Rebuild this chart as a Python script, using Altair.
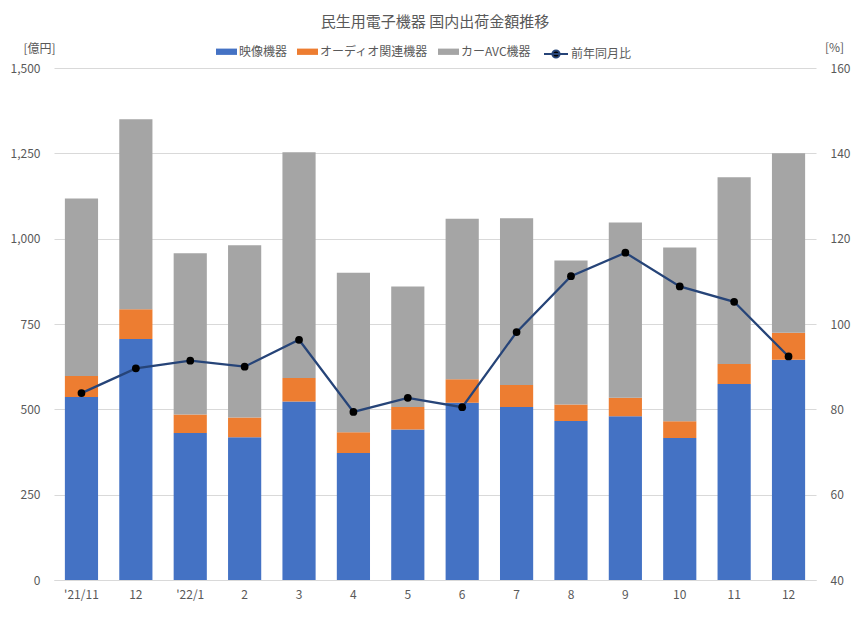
import json
import altair as alt
import pandas as pd

months = ["'21/11", "12", "'22/1", "2", "3", "4", "5", "6", "7", "8", "9", "10", "11", "12"]
video = [536, 706, 431, 418, 523, 372, 441, 519, 507, 466, 480, 416, 574, 645]
audio = [62, 87, 54, 58, 69, 61, 66, 69, 64, 48, 54, 49, 59, 79]
car = [520, 557, 472, 505, 661, 467, 353, 470, 489, 422, 513, 509, 547, 526]
yoy = [83.8, 89.6, 91.4, 90.0, 96.3, 79.4, 82.7, 80.5, 98.1, 111.2, 116.7, 108.8, 105.2, 92.4]
series = ["映像機器", "オーディオ関連機器", "カーAVC機器"]
colors = ["#4472C4", "#ED7D31", "#A5A5A5"]
line_name = "前年同月比"

rows = []
for i in range(len(months)):
    for k, vals in enumerate([video, audio, car]):
        rows.append({"i": i, "series": series[k], "order": k, "value": vals[i]})
bars_df = pd.DataFrame(rows)
line_df = pd.DataFrame({"i": list(range(len(months))), "yoy": yoy, "s": [line_name] * len(months)})

FONT = "Noto Sans CJK JP"
TXT = "#595959"
label_expr = json.dumps(months) + "[datum.value]"

x_enc = alt.X(
    "i:O",
    scale=alt.Scale(paddingInner=0.39, paddingOuter=0.2),
    axis=alt.Axis(title=None, labelExpr=label_expr, labelAngle=0, ticks=False,
                  domainColor="#d9d9d9", labelPadding=9, grid=False),
)

bars = alt.Chart(bars_df).mark_bar().encode(
    x=x_enc,
    y=alt.Y("value:Q", stack="zero",
            scale=alt.Scale(domain=[0, 1500], nice=False),
            axis=alt.Axis(values=[0, 250, 500, 750, 1000, 1250, 1500], format=",d",
                          title="[億円]", titleAngle=0, titleX=-15, titleY=-20,
                          titleAlign="center", titleBaseline="middle",
                          domain=False, ticks=False, labelPadding=14,
                          grid=True, gridColor="#d9d9d9")),
    color=alt.Color("series:N", scale=alt.Scale(domain=series, range=colors),
                    legend=alt.Legend(title=None, orient="none", legendX=162, legendY=-27,
                                      direction="horizontal",
                                      symbolType="M-1,-0.3L1,-0.3L1,0.3L-1,0.3Z",
                                      symbolSize=441, columnPadding=9, labelOffset=2,
                                      symbolStrokeWidth=0)),
    order=alt.Order("order:Q", sort="ascending"),
)

line = alt.Chart(line_df).mark_line(strokeWidth=2.25).encode(
    x=x_enc,
    y=alt.Y("yoy:Q", scale=alt.Scale(domain=[40, 160], nice=False),
            axis=alt.Axis(orient="right", values=[40, 60, 80, 100, 120, 140, 160],
                          title="[%]", titleAngle=0, titleX=18, titleY=-21,
                          titleAlign="center", titleBaseline="middle",
                          domain=False, ticks=False, labelPadding=14, grid=False)),
    stroke=alt.Stroke("s:N", scale=alt.Scale(domain=[line_name], range=["#264478"]),
                      legend=alt.Legend(title=None, orient="none", legendX=489, legendY=-27,
                                        symbolType="M-1,0L1,0M0.3,0A0.3,0.3,0,1,1,-0.3,0A0.3,0.3,0,1,1,0.3,0",
                                        symbolSize=576, symbolStrokeWidth=2,
                                        symbolFillColor="black", labelOffset=2)),
)

pts = alt.Chart(line_df).mark_point(filled=True, color="black", size=60, opacity=1).encode(
    x=x_enc,
    y=alt.Y("yoy:Q", scale=alt.Scale(domain=[40, 160], nice=False), axis=None),
)

chart = alt.layer(bars, line, pts).resolve_scale(y="independent", color="independent").properties(
    width=762, height=512,
    title=alt.TitleParams("民生用電子機器 国内出荷金額推移", fontSize=15, color=TXT, font=FONT,
                          fontWeight="normal", anchor="middle", offset=11),
    autosize=alt.AutoSizeParams(type="none"),
    padding={"left": 46, "top": 60, "right": 36, "bottom": 52},
).configure(font=FONT).configure_axis(
    labelFont=FONT, labelColor=TXT, labelFontSize=12, titleFont=FONT, titleColor=TXT,
    titleFontSize=12, titleFontWeight="normal",
).configure_legend(labelFont=FONT, labelColor=TXT, labelFontSize=12).configure_view(stroke=None)

chart.save("out.html", embed_options={"renderer": "svg", "actions": False})
